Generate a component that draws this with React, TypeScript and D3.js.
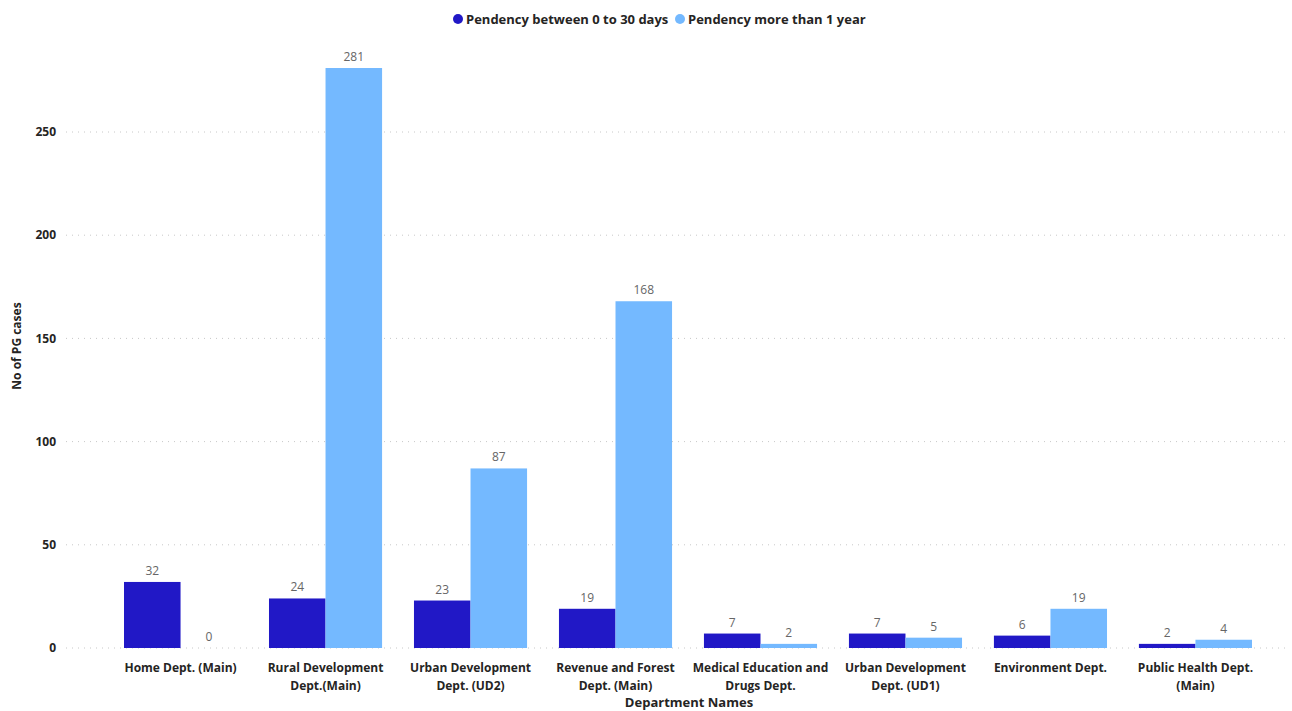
import React from "react";
import * as d3 from "d3";

const categories = [
  "Home Dept. (Main)",
  "Rural Development Dept.(Main)",
  "Urban Development Dept. (UD2)",
  "Revenue and Forest Dept. (Main)",
  "Medical Education and Drugs Dept.",
  "Urban Development Dept. (UD1)",
  "Environment Dept.",
  "Public Health Dept. (Main)",
];
const series = ["Pendency between 0 to 30 days", "Pendency more than 1 year"];
const pend0to30 = [32, 24, 23, 19, 7, 7, 6, 2];
const pendOver1y = [0, 281, 87, 168, 2, 5, 19, 4];
const yTicks = [0, 50, 100, 150, 200, 250];
const colors = ["#2118C6", "#74B9FF"];

const W = 1292;
const H = 711;
const FONT = "'Segoe UI', 'Open Sans', 'Noto Sans', sans-serif";

function measure(text: string, font: string): number {
  const c = document.createElement("canvas");
  const ctx = c.getContext("2d")!;
  ctx.font = font;
  return ctx.measureText(text).width;
}

function wrap(text: string, maxW: number, font: string): string[] {
  const words = text.split(" ");
  const lines: string[] = [];
  let cur = "";
  for (const w of words) {
    const t = cur ? cur + " " + w : w;
    if (cur && measure(t, font) > maxW) {
      lines.push(cur);
      cur = w;
    } else cur = t;
  }
  if (cur) lines.push(cur);
  return lines;
}

export default function App() {
  const plotLeft = 66;
  const plotRight = 1290;
  const y = d3.scaleLinear().domain([0, 250]).range([648, 132]);
  const x0 = d3
    .scaleBand<string>()
    .domain(categories)
    .range([124, 1252])
    .paddingInner(0.22)
    .paddingOuter(0);
  const x1 = d3
    .scaleBand<string>()
    .domain(series)
    .range([0, x0.bandwidth()])
    .padding(0);
  const data = [pend0to30, pendOver1y];
  const catFont = `bold 12px 'Open Sans'`;

  return (
    <svg width={W} height={H} style={{ display: "block", position: "absolute", left: 0, top: 0, background: "#fff" }} fontFamily={FONT}>
      {/* legend */}
      <g>
        <circle cx={458} cy={19} r={5} fill={colors[0]} />
        <text x={466} y={19} dy="0.35em" fontSize={13} fontWeight="bold" fill="#252423">{series[0]}</text>
        <circle cx={680} cy={19} r={5} fill={colors[1]} />
        <text x={688} y={19} dy="0.35em" fontSize={13} fontWeight="bold" fill="#252423">{series[1]}</text>
      </g>
      {/* gridlines & y ticks */}
      {yTicks.map((t) => (
        <g key={t}>
          <line x1={plotLeft} x2={plotRight} y1={y(t)} y2={y(t)} stroke="#C8C8C8" strokeDasharray="1,5" strokeWidth={1} />
          <text x={56} y={y(t)} dy="0.35em" textAnchor="end" fontSize={12} fontWeight="bold" fill="#252423">{t}</text>
        </g>
      ))}
      <text transform={`translate(17,346) rotate(-90)`} textAnchor="middle" dy="0.35em" fontSize={12} fontWeight="bold" fill="#252423">No of PG cases</text>
      {/* bars */}
      {categories.map((c, i) => (
        <g key={c} transform={`translate(${x0(c)},0)`}>
          {series.map((s, j) => {
            const v = data[j][i];
            const bx = x1(s)!;
            return (
              <g key={s}>
                <rect x={bx} y={y(v)} width={x1.bandwidth()} height={y(0) - y(v)} fill={colors[j]} />
                <text x={bx + x1.bandwidth() / 2} y={y(v) - 7} textAnchor="middle" fontSize={12} fill="#666666">{v}</text>
              </g>
            );
          })}
          {wrap(c, 142, catFont).map((ln, k) => (
            <text key={k} x={x0.bandwidth() / 2} y={672 + k * 18} textAnchor="middle" fontSize={12} fontWeight="bold" fill="#252423">{ln}</text>
          ))}
        </g>
      ))}
      <text x={689} y={707} textAnchor="middle" fontSize={13} fontWeight="bold" fill="#252423">Department Names</text>
    </svg>
  );
}
